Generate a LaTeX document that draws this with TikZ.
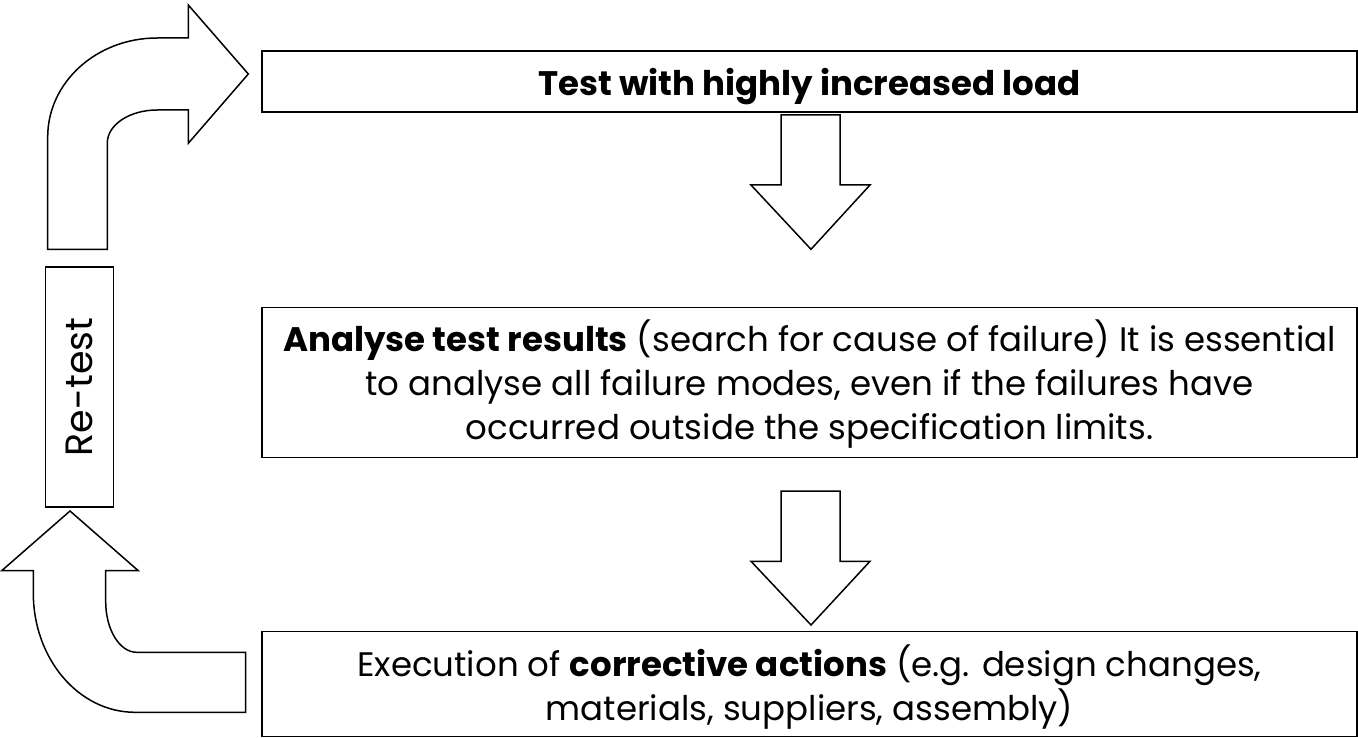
\documentclass[tikz,border=0pt]{standalone}
\usepackage{fontspec}
\setmainfont{Poppins}
\begin{document}
\begin{tikzpicture}[x=1pt,y=-1pt,
  box/.style={draw=black,line width=1.5pt,fill=white,inner sep=0pt},
  blockarrow/.style={draw=black,line width=1.5pt,fill=white,line join=miter},
  txt/.style={font=\fontsize{34}{44}\selectfont,align=center,inner sep=0pt}]
\useasboundingbox (0,0) rectangle (1358,738);
% boxes
\node[box,minimum width=1095pt,minimum height=61pt] (test) at (809.5,81.5) {};
\node[box,minimum width=1095pt,minimum height=150pt] (analyse) at (809.5,382.4) {};
\node[box,minimum width=1095pt,minimum height=105pt] (exec) at (809.5,684.2) {};
\node[box,minimum width=67.6pt,minimum height=240pt] (retest) at (79.5,387) {};
% texts
\node[txt,yshift=-5pt] (testlbl) at (test.center) {\textbf{Test with highly increased load}};
\node[txt,yshift=-2pt] (analyselbl) at (analyse.center) {\textbf{Analyse test results} (search for cause of failure) It is essential\\to analyse all failure modes, even if the failures have\\occurred outside the specification limits.};
\node[txt,yshift=-3pt] (execlbl) at (exec.center) {Execution of \textbf{corrective actions} (e.g. design changes,\\materials, suppliers, assembly)};
\node[font=\fontsize{38}{44}\selectfont,rotate=90] (retestlbl) at (retest.center) {Re-test};
% down arrows
\draw[blockarrow] (781,115) -- (840,115) -- (840,185) -- (870,185) -- (811,249.3) -- (751,185) -- (781,185) -- cycle;
\draw[blockarrow] (781,491) -- (840,491) -- (840,561.3) -- (870,561.3) -- (811,625) -- (751,561.3) -- (781,561.3) -- cycle;
% bent arrow top-left
\draw[blockarrow] (47.7,249.3) -- (47.7,137)
  .. controls (47.7,82.3) and (96.6,38) .. (157,38)
  -- (188.3,38) -- (188.3,5) -- (248.3,74) -- (188.3,143.3) -- (188.3,110) -- (157,110)
  .. controls (129.6,110) and (107.3,124.8) .. (107.3,143)
  -- (107.3,249.3) -- cycle;
% bent arrow bottom-left
\draw[blockarrow] (70,511) -- (138.3,570.7) -- (105.7,570.7) -- (105.7,601.7)
  .. controls (105.7,629.6) and (119.6,652.3) .. (136.7,652.3)
  -- (245.7,652.3) -- (245.7,712.3) -- (135,712.3)
  .. controls (78.8,712.3) and (33.3,658.9) .. (33.3,593)
  -- (33.3,570.7) -- (1.7,570.7) -- cycle;
\end{tikzpicture}
\end{document}
